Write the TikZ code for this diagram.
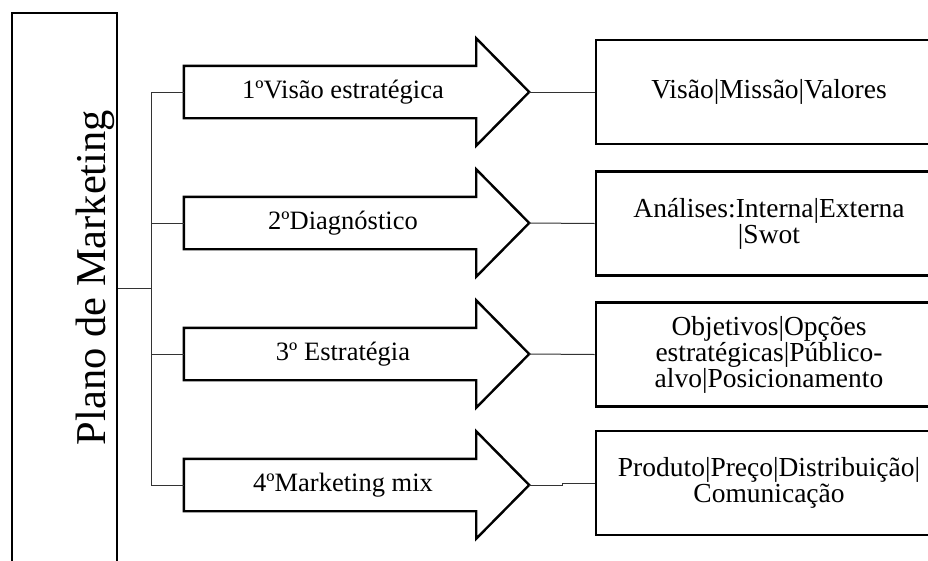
\documentclass[tikz,border=0pt]{standalone}
\usepackage{fontspec}
\setmainfont{Liberation Serif}
\usetikzlibrary{calc}
\begin{document}
\begin{tikzpicture}[x=1pt,y=-1pt,
  frame/.style={draw=black, line width=2.6pt, inner sep=0pt},
  arrowbody/.style={minimum width=292pt, minimum height=52pt, inner sep=0pt},
  arrowline/.style={draw=black, line width=2.4pt, line join=miter, fill=white},
  arrowtext/.style={font=\fontsize{26.5}{30}\selectfont, inner sep=0pt},
  resultbox/.style={draw=black, line width=2.6pt, minimum width=346pt, minimum height=104pt,
    align=center, inner sep=0pt, font=\fontsize{27.5}{26}\selectfont},
  link/.style={draw=black!80, line width=1pt}
]
\useasboundingbox (0,0) rectangle (928,560);

% main vertical frame
\node[frame, minimum width=105pt, minimum height=562pt] (pm) at (64.5,294) {};
\node[rotate=90, inner sep=0pt, font=\fontsize{42.5}{46}\selectfont] (pmt) at (95,277.5) {Plano de Marketing};

% step arrows: invisible shaft nodes, outlines drawn from their anchors
\foreach \i/\y/\txt in {1/92/1ºVisão estratégica, 2/223/2ºDiagnóstico, 3/354/3º Estratégia, 4/485/4ºMarketing mix}{
  \node[arrowbody] (a\i) at (330,\y) {};
  \coordinate (t\i) at ([xshift=53pt]a\i.east);
  \draw[arrowline] (a\i.north west) -- (a\i.north east) -- ([yshift=27.5pt]a\i.north east)
    -- (t\i) -- ([yshift=-27.5pt]a\i.south east) -- (a\i.south east) -- (a\i.south west) -- cycle;
  \node[arrowtext] (l\i) at ([xshift=13pt]a\i.center) {\txt};
}

% result boxes
\node[resultbox] (b1) at (769,92) {Visão|Missão|Valores};
\node[resultbox] (b2) at (769,223.5) {Análises:Interna|Externa\\|Swot};
\node[resultbox] (b3) at (769,354.5) {Objetivos|Opções\\estratégicas|Público-\\alvo|Posicionamento};
\node[resultbox] (b4) at (769,483) {Produto|Preço|Distribuição|\\Comunicação};

% tree connectors
\coordinate (trunk) at (151,288);
\draw[link] (pm.east |- trunk) -- (trunk);
\draw[link] (a1.west -| trunk) -- (a4.west -| trunk);
\foreach \i in {1,2,3,4}{
  \draw[link] (a\i.west -| trunk) -- (a\i.west);
}
\draw[link] (t1) -- (b1.west);
\draw[link] (t2) -- (b2.west);
\draw[link] (t3) -- (b3.west);
\draw[link] (t4) -- ++(33,0) |- (b4.west);
\end{tikzpicture}
\end{document}
